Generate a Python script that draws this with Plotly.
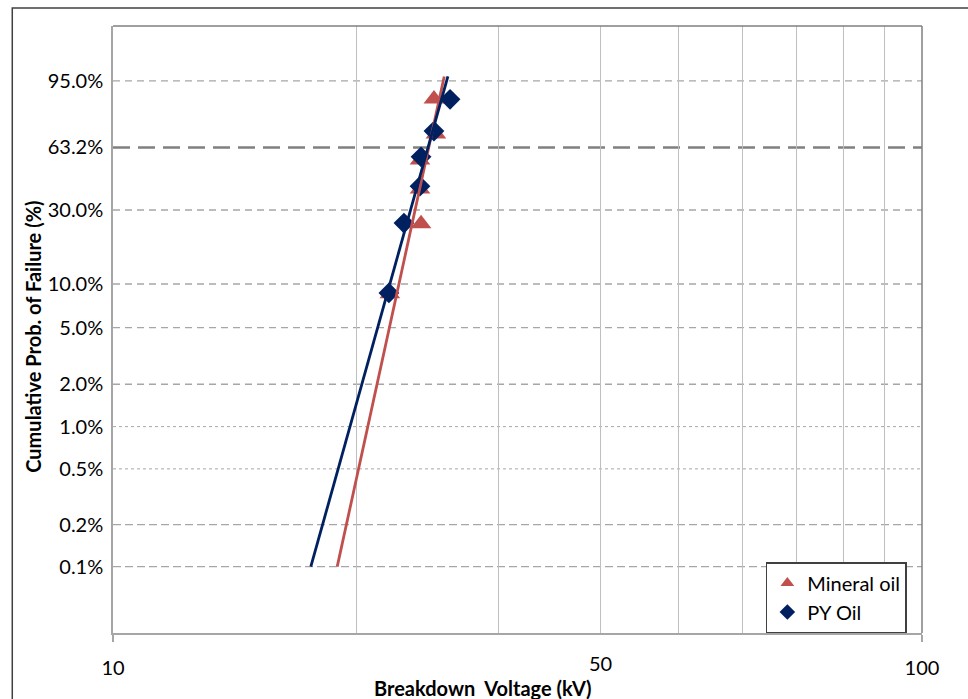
import numpy as np
import plotly.graph_objects as go

# ---------------- data ----------------
mineral_kv = [21.99, 24.03, 23.96, 23.96, 25.07, 24.93]
mineral_prob = [0.0857, 0.247, 0.396, 0.5565, 0.7126, 0.891]
py_kv = [21.93, 22.89, 23.96, 24.03, 24.93, 26.10]
py_prob = [0.087, 0.25, 0.41, 0.575, 0.73, 0.89]

# Weibull fit lines (end points, kV vs cumulative probability)
fit_prob = [0.001, 0.96]
mineral_fit_kv = [18.93, 25.67]
py_fit_kv = [17.56, 25.94]

y_tick_prob = [0.001, 0.002, 0.005, 0.01, 0.02, 0.05, 0.10, 0.30, 0.632, 0.95]
y_tick_text = ["0.1%", "0.2%", "0.5%", "1.0%", "2.0%", "5.0%", "10.0%", "30.0%", "63.2%", "95.0%"]

x_minor_vals = [20, 30, 40, 50, 60, 70, 80, 90]
x_tick_vals = [10, 100]
x_tick_text = ["10", "100"]


def wb(p):
    """Weibull probability-paper transform."""
    p = np.asarray(p, dtype=float)
    return np.log(-np.log(1.0 - p))


RED = "#C0504D"
NAVY = "#002060"
FONT = "Lato"

# gridline styles per tick label
grid_style = {
    "95.0%": dict(dash="7px,5px", width=1.3, color="#A6A6A6"),
    "63.2%": dict(dash="17px,8px", width=2.5, color="#808080"),
    "30.0%": dict(dash="7px,5px", width=1.3, color="#A6A6A6"),
    "10.0%": dict(dash="7px,5px", width=1.3, color="#A6A6A6"),
    "5.0%": dict(dash="7px,5px", width=1.3, color="#A6A6A6"),
    "2.0%": dict(dash="7px,5px", width=1.3, color="#A6A6A6"),
    "1.0%": dict(dash="3px,3px", width=1.0, color="#A6A6A6"),
    "0.5%": dict(dash="3px,3px", width=1.0, color="#A6A6A6"),
    "0.2%": dict(dash="8px,4px", width=1.3, color="#A6A6A6"),
    "0.1%": dict(dash="8px,4px", width=1.3, color="#A6A6A6"),
}

fig = go.Figure()

fig.add_trace(go.Scatter(
    x=mineral_kv, y=wb(mineral_prob), mode="markers", name="Mineral oil",
    legendgroup="a",
    marker=dict(symbol="triangle-up", size=18, color=RED),
))
fig.add_trace(go.Scatter(
    x=py_kv, y=wb(py_prob), mode="markers", name="PY Oil",
    legendgroup="b",
    marker=dict(symbol="diamond", size=16, color=NAVY),
))
fig.add_trace(go.Scatter(
    x=mineral_fit_kv, y=wb(fit_prob), mode="lines", showlegend=False,
    line=dict(color=RED, width=2.8),
))
fig.add_trace(go.Scatter(
    x=py_fit_kv, y=wb(fit_prob), mode="lines", showlegend=False,
    line=dict(color=NAVY, width=2.8),
))

shapes = []
for p, lab in zip(y_tick_prob, y_tick_text):
    st = grid_style[lab]
    yv = float(wb(p))
    shapes.append(dict(type="line", xref="paper", yref="y", x0=0, x1=1, y0=yv, y1=yv,
                       layer="below", line=st))
# top and right plot border
shapes.append(dict(type="line", xref="paper", yref="paper", x0=0, x1=1, y0=1, y1=1,
                   line=dict(color="#7F7F7F", width=1.5)))
shapes.append(dict(type="line", xref="paper", yref="paper", x0=1, x1=1, y0=0, y1=1,
                   line=dict(color="#7F7F7F", width=1.5)))
# outer chart border
shapes.append(dict(type="rect", xref="paper", yref="paper", x0=-0.1245, x1=1.3,
                   y0=-0.3, y1=1.0297, line=dict(color="#404040", width=1.5)))

annotations = [
    dict(text="Cumulative Prob. of Failure (%)", xref="paper", yref="paper",
         x=-0.0989, y=0.488, textangle=-90, showarrow=False,
         font=dict(family=FONT, size=20, color="#000000", weight="bold"),
         xanchor="center", yanchor="middle"),
    dict(text="Breakdown&nbsp;&nbsp;Voltage (kV)", xref="paper", yref="paper",
         x=0.457, y=-0.0906, showarrow=False,
         font=dict(family=FONT, size=20, color="#000000", weight="bold"),
         xanchor="center", yanchor="middle"),
    dict(text="50", xref="paper", yref="paper", x=0.602, y=-0.0494, showarrow=False,
         font=dict(family=FONT, size=20, color="#000000"),
         xanchor="center", yanchor="middle"),
]

fig.update_layout(
    width=968, height=699,
    margin=dict(l=113, r=46, t=26, b=66),
    paper_bgcolor="white", plot_bgcolor="white",
    font=dict(family=FONT, size=20, color="#000000"),
    shapes=shapes,
    annotations=annotations,
    showlegend=True,
    legend=dict(x=0.807, y=0.0, xanchor="left", yanchor="bottom",
                bgcolor="white", bordercolor="#404040", borderwidth=1.5,
                font=dict(family=FONT, size=20, color="#000000"),
                itemsizing="constant", tracegroupgap=6,
                entrywidth=112, entrywidthmode="pixels",
                traceorder="normal"),
    xaxis=dict(type="log", range=[1, 2], showgrid=False, zeroline=False,
               showline=True, linecolor="#A6A6A6", linewidth=1.5,
               ticks="outside", ticklen=7, tickcolor="#A6A6A6", tickwidth=1.5,
               tickvals=x_tick_vals, ticktext=x_tick_text,
               ticklabelstandoff=9,
               minor=dict(tickvals=x_minor_vals, showgrid=True,
                          gridcolor="#BFBFBF", gridwidth=1.2, ticks="")),
    yaxis=dict(range=[-8, 2], showgrid=False, zeroline=False,
               showline=True, linecolor="#A6A6A6", linewidth=1.5,
               ticks="", tickvals=[float(v) for v in wb(y_tick_prob)],
               ticktext=y_tick_text, ticklabelstandoff=4),
)

fig.write_html("out.html")
